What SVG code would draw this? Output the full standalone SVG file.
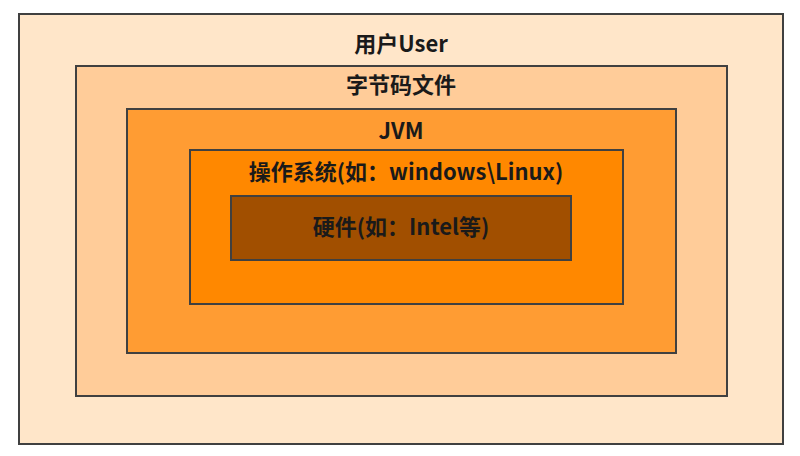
<svg xmlns="http://www.w3.org/2000/svg" width="800" height="456" viewBox="0 0 800 456">
<style>
.box{stroke:#404040;stroke-width:2}
.t{font-family:"Noto Sans CJK SC","Noto Sans",sans-serif;font-weight:bold;font-size:22px;fill:#1a1a1a;text-anchor:middle}
</style>
<rect width="800" height="456" fill="#ffffff"/>
<g id="user">
<rect class="box" x="19" y="14" width="764" height="430" fill="#FFE6C9"/>
<text class="t" x="401" y="52">用户User</text>
</g>
<g id="bytecode">
<rect class="box" x="76" y="66" width="651" height="330" fill="#FFCC99"/>
<text class="t" x="401" y="93">字节码文件</text>
</g>
<g id="jvm">
<rect class="box" x="127" y="109" width="549" height="244" fill="#FF9C33"/>
<text class="t" x="401" y="139">JVM</text>
</g>
<g id="os">
<rect class="box" x="190" y="150" width="433" height="154" fill="#FF8800"/>
<text class="t" x="406" y="180">操作系统(如：windows\Linux)</text>
</g>
<g id="hardware">
<rect class="box" x="231" y="196" width="340" height="64" fill="#A14F00"/>
<text class="t" x="401" y="235">硬件(如：Intel等)</text>
</g>
<g id="connectors"></g>
</svg>
